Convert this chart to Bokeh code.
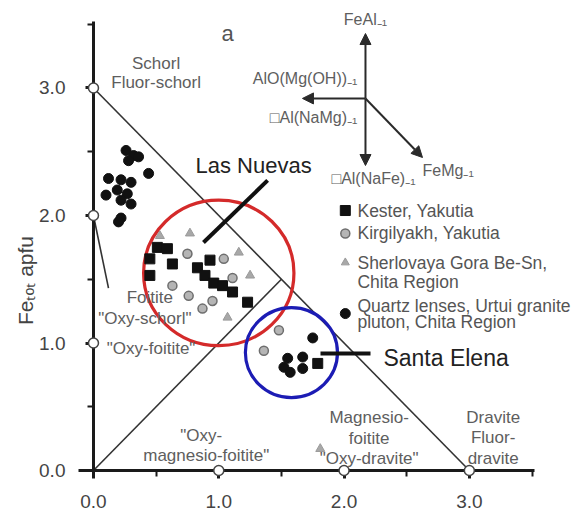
import math
from bokeh.plotting import figure
from bokeh.models import (LinearAxis, FixedTicker, Range1d, Arrow, NormalHead,
                          PrintfTickFormatter)
from bokeh.core.properties import value
from bokeh.embed import file_html
from bokeh.resources import INLINE

# ---------------- data ----------------
kester_x = [0.51, 0.59, 0.45, 0.45, 0.63, 0.83, 0.93, 0.89, 0.96, 1.03, 1.11, 1.23, 1.79]
kester_y = [1.75, 1.74, 1.66, 1.53, 1.62, 1.59, 1.65, 1.53, 1.47, 1.45, 1.40, 1.32, 0.84]

kirg_x = [0.63, 0.76, 0.75, 1.04, 1.11, 0.87, 0.95, 1.36, 1.48]
kirg_y = [1.45, 1.37, 1.70, 1.66, 1.51, 1.27, 1.33, 0.94, 1.10]

sherl_x = [0.53, 0.77, 1.16, 1.25, 1.07, 1.81]
sherl_y = [1.84, 1.86, 1.71, 1.53, 1.20, 0.17]

quartz_x = [0.26, 0.32, 0.28, 0.36, 0.44, 0.12, 0.22, 0.30, 0.10, 0.19, 0.27, 0.22, 0.30, 0.22, 0.20,
            1.75, 1.52, 1.55, 1.67, 1.67, 1.57]
quartz_y = [2.51, 2.47, 2.43, 2.46, 2.33, 2.29, 2.28, 2.26, 2.16, 2.20, 2.17, 2.12, 2.09, 1.98, 1.95,
            1.04, 0.81, 0.88, 0.89, 0.80, 0.77]

axis_ticks = [0, 1, 2, 3]
axis_minor = [0.5, 1.5, 2.5, 3.5]
y_title = "Fe\u209c\u2092\u209c apfu"

# diagram boundary lines
bound_xs = [[0, 3], [0, 1.5], [0, 0.12]]
bound_ys = [[3, 0], [0, 1.5], [2, 1.43]]

# end-member nodes (open circles)
node_x = [0, 0, 0, 1, 2, 3]
node_y = [3, 2, 1, 0, 0, 0]

# highlighted groups
ell_x = [1.00, 1.58]
ell_y = [1.55, 0.925]
ell_w = [1.20, 0.735]
ell_h = [1.14, 0.705]
ell_col = ["#d42a2a", "#1c1cb4"]

# region labels
reg_text = ["Schorl", "Fluor-schorl", "Foitite", "\"Oxy-schorl\"", "\"Oxy-foitite\"",
            "\"Oxy-", "magnesio-foitite\"", "Magnesio-", "foitite", "\"Oxy-dravite\"",
            "Dravite", "Fluor-", "dravite"]
reg_x = [0.50, 0.50, 0.45, 0.41, 0.46, 0.86, 0.90, 2.20, 2.20, 2.20, 3.19, 3.19, 3.19]
reg_y = [3.19, 3.04, 1.36, 1.19, 0.96, 0.275, 0.118, 0.416, 0.251, 0.094, 0.416, 0.259, 0.094]

# exchange-vector arrows
arr_x0 = [2.171, 2.171, 2.171, 2.171]
arr_y0 = [2.918, 2.918, 2.918, 2.918]
arr_x1 = [2.171, 1.668, 2.171, 2.626]
arr_y1 = [3.427, 2.918, 2.392, 2.455]
vec_text = ["FeAl\u208b\u2081", "AlO(Mg(OH))\u208b\u2081", "\u25a1Al(NaMg)\u208b\u2081",
            "\u25a1Al(NaFe)\u208b\u2081", "FeMg\u208b\u2081"]
vec_x = [2.171, 2.107, 2.107, 2.235, 2.626]
vec_y = [3.54, 3.075, 2.769, 2.29, 2.353]
vec_align = ["center", "right", "right", "center", "left"]

# legend
leg_marker_x = 2.01
leg_marker_y = [2.039, 1.859, 1.631, 1.231]
leg_text = ["Kester, Yakutia", "Kirgilyakh, Yakutia", "Sherlovaya Gora Be-Sn,", "Chita Region",
            "Quartz lenses, Urtui granite", "pluton, Chita Region"]
leg_text_x = 2.107
leg_text_y = [2.039, 1.859, 1.624, 1.482, 1.294, 1.161]

# call-outs
call_xs = [[1.39, 0.878], [1.812, 2.211]]
call_ys = [[2.275, 1.788], [0.918, 0.918]]
call_text = ["Las Nuevas", "Santa Elena"]
call_x = [0.814, 2.314]
call_y = [2.392, 0.886]
call_size = ["22px", "23px"]

FONT = "Liberation Sans"

p = figure(width=584, height=512, output_backend="svg", toolbar_location=None,
           x_range=Range1d(-0.742, 3.919), y_range=Range1d(-0.329, 3.686),
           x_axis_type=None, y_axis_type=None, min_border=0)
p.outline_line_color = None
p.background_fill_color = "white"
p.border_fill_color = "white"

def style_axis(ax):
    ax.axis_line_width = 3
    ax.axis_line_color = "#1a1a1a"
    ax.major_tick_line_width = 3
    ax.minor_tick_line_width = 2
    ax.major_tick_line_color = "#1a1a1a"
    ax.minor_tick_line_color = "#1a1a1a"
    ax.major_tick_out = 8
    ax.major_tick_in = 0
    ax.minor_tick_out = 6
    ax.minor_tick_in = 0
    ax.major_label_text_font = FONT
    ax.major_label_text_font_size = "19px"
    ax.major_label_text_color = "#444444"

xaxis = LinearAxis(fixed_location=0, bounds=(-0.12, 3.52),
                   ticker=FixedTicker(ticks=axis_ticks, minor_ticks=axis_minor),
                   formatter=PrintfTickFormatter(format="%.1f"))
yaxis = LinearAxis(fixed_location=0, bounds=(0, 3.52),
                   ticker=FixedTicker(ticks=axis_ticks, minor_ticks=axis_minor),
                   formatter=PrintfTickFormatter(format="%.1f"))
style_axis(xaxis)
style_axis(yaxis)
xaxis.major_label_standoff = 16
yaxis.major_label_standoff = 20
p.add_layout(xaxis, "below")
p.add_layout(yaxis, "left")

# y-axis title
p.text(x=[-0.54], y=[1.49], text=[y_title], angle=math.pi / 2, text_align="center",
       text_baseline="middle", text_font=value(FONT), text_font_size="21px", text_color="#444444")

# boundaries
p.multi_line(bound_xs, bound_ys, line_color="#333333", line_width=1.6)

# ellipses
p.ellipse(x=ell_x, y=ell_y, width=ell_w, height=ell_h, fill_color=None,
          line_color=ell_col, line_width=3.2)

# data
p.scatter(quartz_x, quartz_y, marker="circle", size=10, fill_color="#111111", line_color="#111111")
p.scatter(kester_x, kester_y, marker="square", size=10, fill_color="#111111", line_color="#111111")
p.scatter(kirg_x, kirg_y, marker="circle", size=9, fill_color="#b5b5b5", line_color="#6e6e6e", line_width=1.5)
p.scatter(sherl_x, sherl_y, marker="triangle", size=9, fill_color="#a8a8a8", line_color="#9a9a9a")

# nodes
nodes = p.scatter(node_x, node_y, marker="circle", size=10, fill_color="white",
                  line_color="#444444", line_width=1.5)
nodes.level = "overlay"

# region labels
p.text(x=reg_x, y=reg_y, text=reg_text, text_align="center", text_baseline="middle",
       text_font=value(FONT), text_font_size="17px", text_color="#5e5e5e")

# arrows
for x0, y0, x1, y1 in zip(arr_x0, arr_y0, arr_x1, arr_y1):
    p.add_layout(Arrow(x_start=x0, y_start=y0, x_end=x1, y_end=y1, line_width=2,
                       line_color="#2a2a2a",
                       end=NormalHead(size=11, fill_color="#2a2a2a", line_color="#2a2a2a")))
p.text(x=vec_x, y=vec_y, text=vec_text, text_align=vec_align, text_baseline="middle",
       text_font=value(FONT), text_font_size="16px", text_color="#5e5e5e")

# panel letter
p.text(x=[1.07], y=[3.43], text=["a"], text_align="center", text_baseline="middle",
       text_font=value(FONT), text_font_size="22px", text_color="#555555")

# legend
p.scatter([leg_marker_x], [leg_marker_y[0]], marker="square", size=10, fill_color="#111111", line_color="#111111")
p.scatter([leg_marker_x], [leg_marker_y[1]], marker="circle", size=9, fill_color="#b5b5b5", line_color="#6e6e6e", line_width=1.5)
p.scatter([leg_marker_x], [leg_marker_y[2]], marker="triangle", size=8, fill_color="#a8a8a8", line_color="#9a9a9a")
p.scatter([leg_marker_x], [leg_marker_y[3]], marker="circle", size=10, fill_color="#111111", line_color="#111111")
p.text(x=[leg_text_x] * len(leg_text), y=leg_text_y, text=leg_text, text_align="left",
       text_baseline="middle", text_font=value(FONT), text_font_size="17.5px", text_color="#555555")

# call-outs
p.multi_line(call_xs, call_ys, line_color="#111111", line_width=4)
for t, x, y, s in zip(call_text, call_x, call_y, call_size):
    p.text(x=[x], y=[y], text=[t], text_align="left", text_baseline="middle",
           text_font=value(FONT), text_font_size=s, text_color="#222222")

open("out.html", "w").write(file_html(p, INLINE))
